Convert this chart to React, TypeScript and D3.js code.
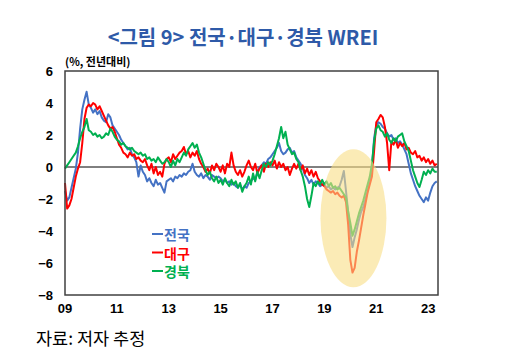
import React, { useEffect, useRef } from 'react';
import * as d3 from 'd3';

// monthly values, Jan 2009 .. May 2023 (%, y/y)
const startYear = 2009;
const nationwide = [
  -1.5, -2.1, -1.9, -1.3, -0.7, -0.1, 0.9, 2.4, 3.6, 4.2, 4.7, 3.9,
  3.7, 3.4, 3.6, 3.3, 3.5, 3.1, 2.9, 2.8, 3.3, 3.1, 2.6, 2.4,
  2.2, 2.0, 1.7, 1.5, 1.3, 1.1, 1.2, 0.8, 0.6, 0.3, -0.6, 0.1,
  -0.3, -0.5, -0.9, -0.7, -1.0, -1.2, -0.8, -1.1, -1.0, -1.3, -1.6, -0.9,
  -0.8, -0.7, -0.9, -0.6, -0.7, -0.5, -0.6, -0.4, -0.5, -0.3, -0.2, 0.2,
  -0.3, -0.5, -0.6, -0.4, -0.7, -0.5, -0.6, -0.8, -0.5, -0.6, -0.7, -0.6,
  -0.7, -0.9, -0.8, -1.0, -0.9, -1.1, -1.0, -1.2, -1.3, -1.1, -1.4, -1.2,
  -1.3, -1.0, -0.9, -0.7, -0.8, -0.3, 0.0, 0.1, 0.3, 0.2, 0.5, 0.6,
  0.8, 1.0, 1.2, 1.5, 1.0, 0.8, 0.9, 1.1, 1.2, 0.9, 1.0, 0.6,
  0.4, 0.2, -0.1, -0.5, -0.7, -1.0, -0.8, -1.1, -0.9, -1.0, -1.2, -1.1,
  -1.1, -1.3, -1.2, -1.4, -1.3, -1.4, -1.3, -1.2, -0.8, -0.25, -1.5, -2.8,
  -4.2, -5.0, -4.4, -3.9, -3.3, -2.8, -2.5, -2.0, -1.5, -0.9, -0.1, 1.8,
  2.6, 2.8, 2.7, 2.5, 2.4, 2.1, 1.9, 2.0, 1.7, 1.8, 1.5, 1.6,
  1.4, 1.1, 0.8, 0.2, -0.4, -0.8, -1.2, -1.5, -1.8, -2.0, -2.2, -1.9,
  -2.1, -1.6, -1.2, -1.0, -0.9,
];
const daegu = [
  -1.0, -2.6, -2.4, -2.0, -1.3, -0.6, -0.1, 0.3, 1.5, 3.0, 3.7, 3.9,
  3.8, 4.0, 3.9, 3.6, 3.8, 3.5, 3.2, 2.9, 2.6, 2.4, 2.5, 2.2,
  1.8, 1.4, 1.2, 0.9, 0.8, 0.6, 0.9, 0.7, 0.8, 0.5, 0.6, 0.4,
  0.3, 0.5, 0.1, -0.2, 0.2, -0.4, 0.0, -0.5, -0.3, -0.6, 0.2, 0.5,
  0.6, 0.3, 0.8, 0.5, 0.7, 0.9, 1.0, 1.25, 0.8, 1.0, 0.6, 0.9,
  0.7, 1.0, 0.5, 0.2, 0.0, -0.3, -0.1, -0.4, 0.1, -0.2, 0.2, 0.0,
  -0.3, 0.1, -0.4, 0.2, 0.0, 0.9, 0.1, -0.3, -0.5, -0.2, -0.6, -0.3,
  0.1, 0.4, 0.0, -0.2, 0.2, -0.4, -0.1, 0.1, -0.3, 0.2, 0.0, 0.3,
  0.1, 0.4, -0.1, 0.3, 0.0, 0.2, -0.2, 0.0, -0.5, -0.1, 0.2, -0.1,
  0.2, -0.2, 0.1, -0.4, -0.1, -0.5, -0.2, -0.6, -0.3, -0.7, -0.9, -1.1,
  -1.2, -1.4, -1.5, -1.6, -1.5, -1.7, -1.6, -1.8, -1.9, -1.8, -2.2, -3.6,
  -5.8, -6.6, -6.3, -5.3, -4.6, -3.8, -3.0, -2.3, -1.6, -1.1, -0.6, 1.0,
  2.8, 3.0, 3.25, 3.1, 2.5, 1.5, -0.2, 1.6, 1.4, 1.7, 1.2, 1.5,
  1.3, 1.5, 1.1, 1.2, 0.9, 0.8, 1.0, 0.6, 0.7, 0.4, 0.6, 0.3,
  0.5, 0.2, 0.4, 0.1, 0.2,
];
const gyeongbuk = [
  -0.1, 0.1, 0.3, 0.5, 0.7, 0.9, 1.3, 1.8, 2.2, 2.5, 3.0, 2.3,
  2.2, 2.0, 2.1, 1.9, 2.0, 1.8, 1.9, 2.1, 2.0, 2.4, 2.2, 1.9,
  1.7, 1.6, 1.4, 1.5, 1.3, 1.2, 1.1, 1.2, 1.0, 0.9, 0.8, 0.9,
  0.7, 0.8, 0.5, 0.6, 0.4, 0.5, 0.3, 0.6, 0.4, 0.2, 0.3, 0.5,
  0.3, 0.0, 0.4, 0.1, 0.5, 0.3, 0.6, 0.9, 0.7, 1.1, 1.3, 1.5,
  1.2, 1.4, 0.9, 0.6, 0.2, -0.2, -0.5, -0.3, -0.7, -0.9, -0.6, -1.0,
  -0.8, -1.1, -0.7, -1.0, -1.2, -0.8, -1.1, -0.9, -1.3, -1.0, -1.55, -1.2,
  -1.0, -0.6, -1.1, -0.4, -0.9, -0.3, -0.7, -0.2, 0.2, 0.0, 0.3, 0.1,
  0.4, 0.8, 1.3, 1.8, 2.5, 1.8, 2.2, 1.4, 1.1, 0.8, 0.9, 0.5,
  0.3, -0.2, -0.6, -1.2, -2.0, -2.5, -1.8, -1.0, -1.2, -0.9, -1.1, -0.8,
  -1.1, -0.9, -1.2, -1.0, -1.3, -1.2, -1.4, -1.3, -1.5, -1.7, -1.9, -2.8,
  -3.5, -4.3, -3.9, -3.4, -2.9, -2.5, -2.1, -1.6, -1.1, -0.6, 0.2, 1.6,
  2.4, 2.6, 2.3, 2.2, 1.9, 2.1, 1.7, 1.5, 1.8, 1.6, 1.9, 2.0,
  2.1, 1.6, 1.3, 1.0, 0.4, -0.2, -0.6, -1.0, -1.25, -0.8, -0.3, -0.5,
  -0.2, -0.4, -0.1, -0.3, -0.3,
];

const seriesNames = ['전국', '대구', '경북'];
const seriesColors = ['#4472C4', '#FF0000', '#00B050'];
const yTicks = [6, 4, 2, 0, -2, -4, -6, -8];
const xTicks = [2009, 2011, 2013, 2015, 2017, 2019, 2021, 2023];
const xTickLabels = ['09', '11', '13', '15', '17', '19', '21', '23'];

const W = 512;
const H = 359;
const plot = { left: 65, right: 438, top: 71, bottom: 295 };

const App = () => {
  const ref = useRef<SVGSVGElement>(null);

  useEffect(() => {
    const svg = d3.select(ref.current);
    svg.selectAll('*').remove();

    const x = d3.scaleLinear().domain([2009, 2023.38]).range([plot.left, plot.right]);
    const y = d3.scaleLinear().domain([-8, 6]).range([plot.bottom, plot.top]);
    const font = "'Noto Sans CJK KR', 'Noto Sans', sans-serif";
    const tickFont = "'Liberation Sans', Arial, sans-serif";

    svg.append('text')
      .attr('x', 243).attr('y', 45)
      .attr('text-anchor', 'middle')
      .attr('font-family', font).attr('font-weight', 700)
      .attr('font-size', 20).attr('fill', '#2E5AA8')
      .text('<그림 9> 전국·대구·경북 WREI');

    svg.append('text')
      .attr('x', 65).attr('y', 66)
      .attr('font-family', font).attr('font-weight', 700)
      .attr('font-size', 11).attr('fill', '#000')
      .text('(%, 전년대비)');

    // zero line
    svg.append('line')
      .attr('x1', plot.left).attr('x2', plot.right)
      .attr('y1', y(0)).attr('y2', y(0))
      .attr('stroke', '#000').attr('stroke-width', 1);

    const line = d3.line<number>()
      .x((_, i) => x(startYear + i / 12))
      .y(d => y(d));

    [nationwide, daegu, gyeongbuk].forEach((s, k) => {
      svg.append('path')
        .datum(s)
        .attr('d', line)
        .attr('fill', 'none')
        .attr('stroke', seriesColors[k])
        .attr('stroke-width', 2)
        .attr('stroke-linejoin', 'round');
    });

    // highlight around the 2020 dip
    svg.append('ellipse')
      .attr('cx', x(2020.12)).attr('cy', y(-3.2))
      .attr('rx', 33).attr('ry', 69)
      .attr('fill', '#F9DE85').attr('opacity', 0.6);

    // frame
    svg.append('rect')
      .attr('x', plot.left).attr('y', plot.top)
      .attr('width', plot.right - plot.left).attr('height', plot.bottom - plot.top)
      .attr('fill', 'none').attr('stroke', '#404040').attr('stroke-width', 1.5);

    svg.append('g')
      .selectAll('text')
      .data(yTicks)
      .enter()
      .append('text')
      .attr('x', 53).attr('y', d => y(d) + 5)
      .attr('text-anchor', 'end')
      .attr('font-family', tickFont).attr('font-weight', 700)
      .attr('font-size', 13).attr('fill', '#000')
      .text(d => (d < 0 ? '\u2212' + Math.abs(d) : String(d)));

    svg.append('g')
      .selectAll('text')
      .data(xTicks)
      .enter()
      .append('text')
      .attr('x', d => x(d)).attr('y', 313)
      .attr('text-anchor', 'middle')
      .attr('font-family', tickFont).attr('font-weight', 700)
      .attr('font-size', 13).attr('fill', '#000')
      .text((_, i) => xTickLabels[i]);

    const legend = svg.append('g');
    seriesNames.forEach((name, k) => {
      const by = 240 + k * 18.5;
      legend.append('line')
        .attr('x1', 152).attr('x2', 163)
        .attr('y1', by - 6).attr('y2', by - 6)
        .attr('stroke', seriesColors[k]).attr('stroke-width', 2);
      legend.append('text')
        .attr('x', 164).attr('y', by)
        .attr('font-family', font).attr('font-weight', 700)
        .attr('font-size', 14).attr('fill', seriesColors[k])
        .text(name);
    });

    svg.append('text')
      .attr('x', 36).attr('y', 345)
      .attr('font-family', font)
      .attr('font-size', 17.5).attr('fill', '#000')
      .text('자료: 저자 추정');
  }, []);

  return (
    <svg
      ref={ref}
      width={W}
      height={H}
      style={{ position: 'absolute', left: 0, top: 0, background: '#fff' }}
    />
  );
};

export default App;
